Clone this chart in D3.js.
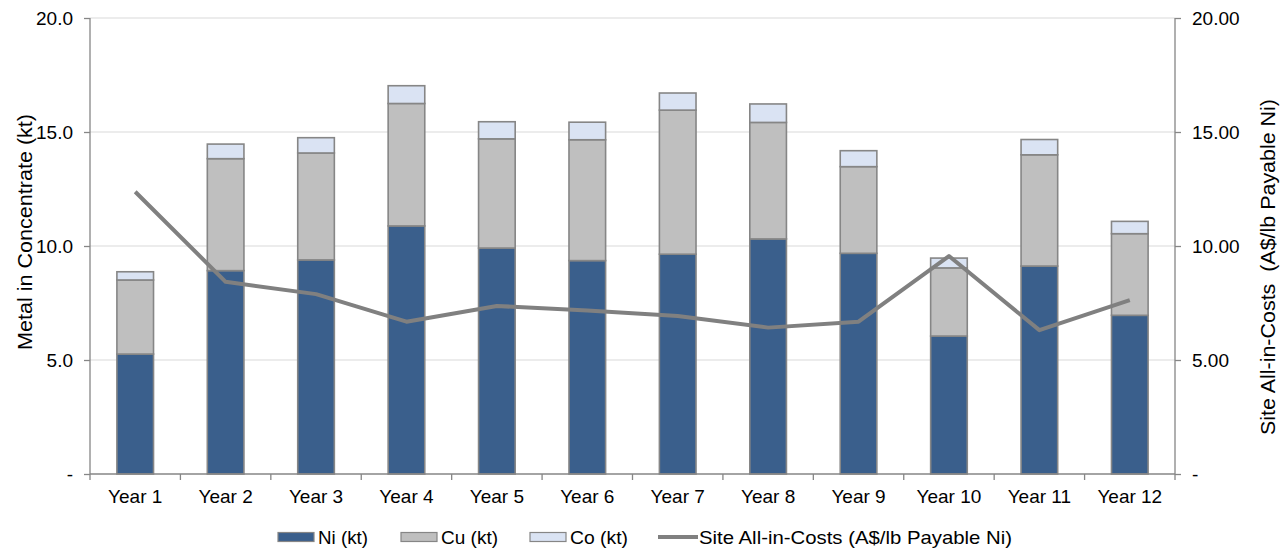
<!DOCTYPE html>
<html lang="en">
<head>
<meta charset="UTF-8">
<title>Metal in Concentrate</title>
<script src="https://d3js.org/d3.v7.min.js"></script>
<style>
    body { margin: 0; background: #fff; }
    text { font-family: "Liberation Sans", Arial, sans-serif; fill: #000; }
</style>
</head>
<body>
<div id="chart"></div>
<script>
    const years = ["Year 1", "Year 2", "Year 3", "Year 4", "Year 5", "Year 6",
                   "Year 7", "Year 8", "Year 9", "Year 10", "Year 11", "Year 12"];
    const ni = [5.26, 8.92, 9.39, 10.88, 9.91, 9.36, 9.64, 10.31, 9.68, 6.05, 9.12, 6.96];
    const cu = [3.25, 4.91, 4.69, 5.37, 4.79, 5.30, 6.32, 5.11, 3.80, 2.99, 4.88, 3.58];
    const co = [0.36, 0.64, 0.67, 0.78, 0.75, 0.77, 0.75, 0.81, 0.70, 0.43, 0.67, 0.54];
    const costs = [12.38, 8.43, 7.89, 6.68, 7.37, 7.17, 6.93, 6.42, 6.68, 9.56, 6.31, 7.63];
    const leftTicks = [0, 5, 10, 15, 20];
    const rightTicks = [0, 5, 10, 15, 20];

    const width = 1287, height = 552;
    const margin = { left: 90, right: 112, top: 18, bottom: 78 };
    const fontSize = "19px";

    const svg = d3.select("#chart").append("svg")
        .attr("width", width).attr("height", height);

    const x = d3.scaleBand().domain(years)
        .range([margin.left, width - margin.right])
        .paddingInner(0.595).paddingOuter(0.2975);
    const xAxisBand = d3.scaleBand().domain(years)
        .range([margin.left, width - margin.right]);
    const y = d3.scaleLinear().domain([0, 20]).range([height - margin.bottom, margin.top]);
    const y2 = d3.scaleLinear().domain([0, 20]).range([height - margin.bottom, margin.top]);

    // gridlines
    svg.append("g").selectAll("line").data(leftTicks.slice(1)).enter().append("line")
        .attr("x1", margin.left).attr("x2", width - margin.right)
        .attr("y1", d => y(d)).attr("y2", d => y(d))
        .attr("stroke", "#d9d9d9").attr("stroke-width", 1.2);

    // stacked bars
    const rows = years.map((yr, i) => ({ year: yr, ni: ni[i], cu: cu[i], co: co[i] }));
    const stack = d3.stack().keys(["ni", "cu", "co"])(rows);
    const fills = { ni: "#3a5f8c", cu: "#bfbfbf", co: "#dae3f3" };

    svg.append("g").selectAll("g").data(stack).enter().append("g")
        .attr("fill", d => fills[d.key])
        .selectAll("rect").data(d => d).enter().append("rect")
        .attr("x", d => x(d.data.year))
        .attr("width", x.bandwidth())
        .attr("y", d => y(d[1]))
        .attr("height", d => y(d[0]) - y(d[1]))
        .attr("stroke", "#868686").attr("stroke-width", 1.6);

    // cost line
    const line = d3.line()
        .x((d, i) => x(years[i]) + x.bandwidth() / 2)
        .y(d => y2(d));
    svg.append("path").datum(costs)
        .attr("d", line)
        .attr("fill", "none").attr("stroke", "#808080").attr("stroke-width", 4)
        .attr("stroke-linejoin", "round");

    // axes
    const fmtL = d => d === 0 ? "-" : d3.format(".1f")(d);
    const fmtR = d => d === 0 ? "-" : d3.format(".2f")(d);

    const gl = svg.append("g").attr("transform", `translate(${margin.left},0)`)
        .call(d3.axisLeft(y).tickValues(leftTicks).tickFormat(fmtL).tickSize(6).tickPadding(11));
    const gr = svg.append("g").attr("transform", `translate(${width - margin.right},0)`)
        .call(d3.axisRight(y2).tickValues(rightTicks).tickFormat(fmtR).tickSize(6).tickPadding(11));
    const gx = svg.append("g").attr("transform", `translate(0,${height - margin.bottom})`)
        .call(d3.axisBottom(xAxisBand).tickSize(0).tickPadding(16));

    [gl, gr, gx].forEach(g => {
        g.select(".domain").attr("stroke", "#868686").attr("stroke-width", 1.3);
        g.selectAll(".tick line").attr("stroke", "#868686").attr("stroke-width", 1.3);
        g.selectAll("text").style("font-size", fontSize).attr("fill", "#000");
    });
    gl.select(".domain").attr("d", `M0,${y(0)}V${y(20)}`);
    gr.select(".domain").attr("d", `M0,${y(0)}V${y(20)}`);
    gx.select(".domain").attr("d", `M${margin.left},0H${width - margin.right}`);

    // category separator ticks on x axis
    const sep = years.map(d => xAxisBand(d)).concat([width - margin.right]);
    gx.selectAll(".sep").data(sep).enter().append("line")
        .attr("x1", d => d).attr("x2", d => d)
        .attr("y1", 0).attr("y2", 6)
        .attr("stroke", "#868686").attr("stroke-width", 1.3);

    // axis titles
    svg.append("text")
        .attr("transform", `translate(32,232) rotate(-90)`)
        .attr("text-anchor", "middle").style("font-size", "20px")
        .attr("textLength", 236).attr("lengthAdjust", "spacingAndGlyphs")
        .text("Metal in Concentrate (kt)");
    svg.append("text")
        .attr("transform", `translate(1275,267) rotate(-90)`)
        .attr("text-anchor", "middle").style("font-size", "20px")
        .attr("xml:space", "preserve")
        .attr("textLength", 336).attr("lengthAdjust", "spacingAndGlyphs")
        .text("Site All-in-Costs  (A$/lb Payable Ni)");

    // legend
    const legendItems = [
        { label: "Ni (kt)", type: "rect", fill: fills.ni, x: 278, w: 50 },
        { label: "Cu (kt)", type: "rect", fill: fills.cu, x: 401, w: 57 },
        { label: "Co (kt)", type: "rect", fill: fills.co, x: 530, w: 58 },
        { label: "Site All-in-Costs (A$/lb Payable Ni)", type: "line", x: 658, w: 313 }
    ];
    const lg = svg.append("g").attr("transform", "translate(0,537)");
    legendItems.forEach(it => {
        if (it.type === "rect") {
            lg.append("rect").attr("x", it.x).attr("y", -4.5).attr("width", 36).attr("height", 9)
                .attr("fill", it.fill).attr("stroke", "#868686").attr("stroke-width", 1.2);
        } else {
            lg.append("line").attr("x1", it.x).attr("x2", it.x + 40).attr("y1", 0).attr("y2", 0)
                .attr("stroke", "#808080").attr("stroke-width", 4);
        }
        lg.append("text").attr("x", it.x + (it.type === "rect" ? 40 : 41)).attr("y", 0)
            .attr("dy", "0.35em").style("font-size", fontSize)
            .attr("textLength", it.w).attr("lengthAdjust", "spacingAndGlyphs")
            .text(it.label);
    });
</script>
</body>
</html>
